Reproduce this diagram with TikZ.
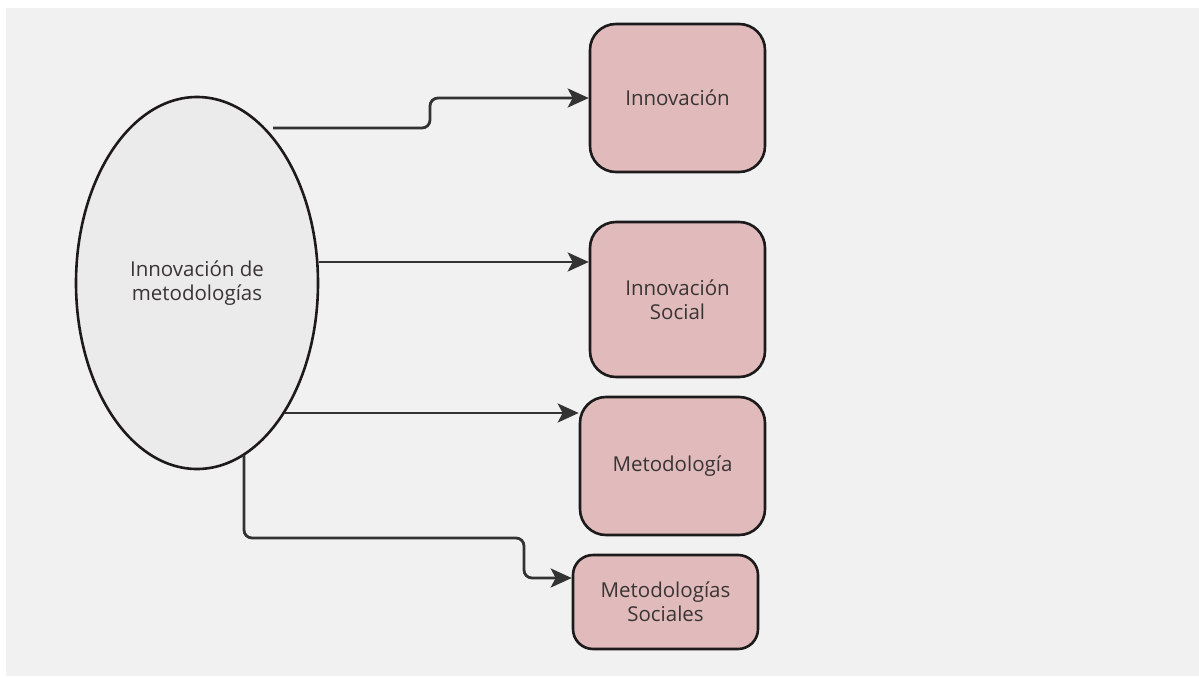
\documentclass[tikz,border=0pt]{standalone}
\usepackage{fontspec}
\setmainfont{Open Sans}
\usetikzlibrary{shapes.geometric,arrows.meta}
\definecolor{bgcol}{HTML}{F1F1F1}
\definecolor{ellcol}{HTML}{EBEBEB}
\definecolor{boxcol}{HTML}{E1BBBB}
\definecolor{edgecol}{HTML}{1C1A1A}
\definecolor{linecol}{HTML}{333333}
\definecolor{txtcol}{HTML}{3A3434}
\tikzset{
  lbl/.style={font=\fontsize{20.5}{24}\selectfont, text=txtcol, align=center},
  boxnode/.style={lbl, draw=edgecol, fill=boxcol, line width=2.6pt, rounded corners=26pt, inner sep=0pt},
  ellnode/.style={lbl, ellipse, draw=edgecol, fill=ellcol, line width=2.6pt, inner sep=0pt},
  conn/.style={draw=linecol, line width=2.8pt, rounded corners=8pt, -{Stealth[length=21pt,width=19pt,inset=5pt]}}
}
\begin{document}
\begin{tikzpicture}[x=1pt,y=-1pt]
\useasboundingbox (0,0) rectangle (1199,677);
\fill[white] (0,0) rectangle (1199,677);
\fill[bgcol] (6,8) rectangle (1199,676);

\node[ellnode, minimum width=242pt, minimum height=372pt] (ell) at (197,283) {Innovación de\\metodologías};

\node[boxnode, minimum width=175pt, minimum height=148pt] (b1) at (677.5,98) {Innovación};
\node[boxnode, minimum width=175pt, minimum height=155pt] (b2) at (677.5,299.5) {Innovación\\Social};
\node[boxnode, minimum width=185pt, minimum height=138pt] (b3) at (672.5,466) {Metodología};
\node[boxnode, minimum width=185pt, minimum height=94pt, rounded corners=20pt] (b4) at (665.5,602) {Metodologías\\Sociales};

\coordinate (s1) at (273,128);
\coordinate (s2) at (319,262);
\coordinate (s3) at (285,413);
\coordinate (s4) at (244,455);
\coordinate (k4) at (0,578);

\draw[conn] (s1) -- (430,128) -- (430,98) -- (b1.west);
\draw[conn] (s2) -- (b2.west |- s2);
\draw[conn] (s3) -- (b3.west |- s3);
\draw[conn] (s4) -- (244,538) -- (524,538) -- (524,578) -- (b4.west |- k4);
\end{tikzpicture}
\end{document}
